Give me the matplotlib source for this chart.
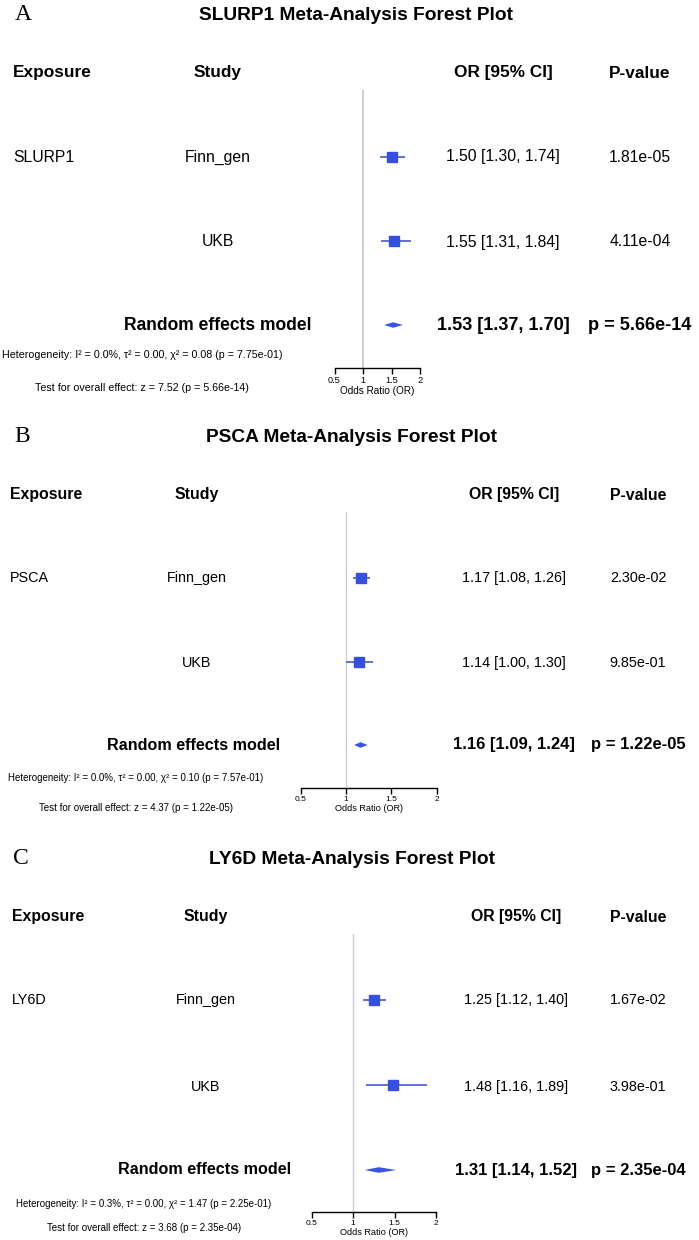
import matplotlib
matplotlib.use("Agg")
import matplotlib.pyplot as plt

plt.rcParams['font.family'] = ['Liberation Sans', 'DejaVu Sans']

# ---------------- data ----------------
panel_letters = ["A", "B", "C"]
exposures = ["SLURP1", "PSCA", "LY6D"]
studies = ["Finn_gen", "UKB"]

slurp1_or = [1.50, 1.55]
slurp1_lo = [1.30, 1.31]
slurp1_hi = [1.74, 1.84]
slurp1_p = ["1.81e-05", "4.11e-04"]

psca_or = [1.17, 1.14]
psca_lo = [1.08, 1.00]
psca_hi = [1.26, 1.30]
psca_p = ["2.30e-02", "9.85e-01"]

ly6d_or = [1.25, 1.48]
ly6d_lo = [1.12, 1.16]
ly6d_hi = [1.40, 1.89]
ly6d_p = ["1.67e-02", "3.98e-01"]

re_or = [1.53, 1.16, 1.31]
re_lo = [1.37, 1.09, 1.14]
re_hi = [1.70, 1.24, 1.52]
re_p = ["5.66e-14", "1.22e-05", "2.35e-04"]

het_i2 = ["0.0%", "0.0%", "0.3%"]
het_tau2 = ["0.00", "0.00", "0.00"]
het_chi2 = ["0.08", "0.10", "1.47"]
het_p = ["7.75e-01", "7.57e-01", "2.25e-01"]
overall_z = ["7.52", "4.37", "3.68"]

tick_values = [0.5, 1, 1.5, 2]
tick_labels = ["0.5", "1", "1.5", "2"]

study_or = [slurp1_or, psca_or, ly6d_or]
study_lo = [slurp1_lo, psca_lo, ly6d_lo]
study_hi = [slurp1_hi, psca_hi, ly6d_hi]
study_p = [slurp1_p, psca_p, ly6d_p]

# ---------------- layout (pixels) ----------------
W, H = 699, 1240
fig = plt.figure(figsize=(W / 100, H / 100), dpi=100)
fig.patch.set_facecolor("white")

def fx(px):
    return px / W

def fy(py):
    return 1 - py / H

layouts = [
    dict(scale=1.09, title_y=16, header_y=73, rows=[157, 242, 325], line_top=90,
         axis_y=368, het_y=355, test_y=388, one_px=363, unit_px=57,
         exp_x=13, study_x=218, or_x=503, p_x=640, re_right=312, het_x=142,
         title_x=356, letter_x=15),
    dict(scale=1.0, title_y=438, header_y=495, rows=[578, 663, 745], line_top=512,
         axis_y=788, het_y=778, test_y=808, one_px=346, unit_px=90.5,
         exp_x=10, study_x=197, or_x=514, p_x=638, re_right=280, het_x=136,
         title_x=352, letter_x=14),
    dict(scale=1.0, title_y=860, header_y=917, rows=[1000, 1087, 1170], line_top=934,
         axis_y=1212, het_y=1204, test_y=1228, one_px=353, unit_px=83,
         exp_x=12, study_x=206, or_x=516, p_x=638, re_right=291, het_x=144,
         title_x=352, letter_x=13),
]

sq_color = "#3550DC"
ci_color = "#5566D0"
dia_color = "#3A55E6"

for i, L in enumerate(layouts):
    s = L["scale"]
    rows = L["rows"]
    # letter & title
    fig.text(fx(L["letter_x"]), fy(L["title_y"] - 1), panel_letters[i],
             family="Liberation Serif", fontsize=17, ha="left", va="center")
    fig.text(fx(L["title_x"]), fy(L["title_y"]), f"{exposures[i]} Meta-Analysis Forest Plot",
             fontsize=13.8, fontweight="bold", ha="center", va="center")
    # headers
    hy = fy(L["header_y"])
    fs_h = 11.4 * s
    fig.text(fx(L["exp_x"]), hy, "Exposure", fontsize=fs_h, fontweight="bold", ha="left", va="center")
    fig.text(fx(L["study_x"]), hy, "Study", fontsize=fs_h, fontweight="bold", ha="center", va="center")
    fig.text(fx(L["or_x"]), hy, "OR [95% CI]", fontsize=fs_h, fontweight="bold", ha="center", va="center")
    fig.text(fx(L["p_x"]), hy, "P-value", fontsize=fs_h, fontweight="bold", ha="center", va="center")

    # study rows text
    fs_r = 10.4 * s
    fig.text(fx(L["exp_x"]), fy(rows[0]), exposures[i], fontsize=fs_r, ha="left", va="center")
    for j, st in enumerate(studies):
        ry = fy(rows[j])
        fig.text(fx(L["study_x"]), ry, st, fontsize=fs_r, ha="center", va="center")
        fig.text(fx(L["or_x"]), ry,
                 f"{study_or[i][j]:.2f} [{study_lo[i][j]:.2f}, {study_hi[i][j]:.2f}]",
                 fontsize=fs_r, ha="center", va="center")
        fig.text(fx(L["p_x"]), ry, study_p[i][j], fontsize=fs_r, ha="center", va="center")

    # random effects row
    fs_re = 11.6 * s
    ry = fy(rows[2])
    fig.text(fx(L["re_right"]), ry, "Random effects model", fontsize=fs_re,
             fontweight="bold", ha="right", va="center")
    fig.text(fx(L["or_x"]), ry, f"{re_or[i]:.2f} [{re_lo[i]:.2f}, {re_hi[i]:.2f}]",
             fontsize=12.0 * s, fontweight="bold", ha="center", va="center")
    fig.text(fx(L["p_x"]), ry, f"p = {re_p[i]}",
             fontsize=12.0 * s, fontweight="bold", ha="center", va="center")

    # heterogeneity
    fs_het = 7.0 * s
    fig.text(fx(L["het_x"]), fy(L["het_y"]),
             f"Heterogeneity: I\u00b2 = {het_i2[i]}, \u03c4\u00b2 = {het_tau2[i]}, "
             f"\u03c7\u00b2 = {het_chi2[i]} (p = {het_p[i]})",
             fontsize=fs_het, ha="center", va="center")
    fig.text(fx(L["het_x"]), fy(L["test_y"]),
             f"Test for overall effect: z = {overall_z[i]} (p = {re_p[i]})",
             fontsize=fs_het, ha="center", va="center")

    # forest axes
    left_px = L["one_px"] + L["unit_px"] * (tick_values[0] - 1)
    right_px = L["one_px"] + L["unit_px"] * (tick_values[-1] - 1)
    sp = (rows[2] - rows[0]) / 2
    top_d = -(rows[0] - L["line_top"]) / sp
    bot_d = 2 + (L["axis_y"] - rows[2]) / sp
    ax = fig.add_axes([fx(left_px), fy(L["axis_y"]), (right_px - left_px) / W,
                       (L["axis_y"] - L["line_top"]) / H])
    ax.set_xlim(tick_values[0], tick_values[-1])
    ax.set_ylim(bot_d, top_d)
    ax.patch.set_alpha(0)
    for side in ["top", "right", "left"]:
        ax.spines[side].set_visible(False)
    ax.spines["bottom"].set_linewidth(1.0)
    ax.set_yticks([])
    ax.set_xticks(tick_values)
    ax.set_xticklabels(tick_labels)
    ax.tick_params(axis="x", length=4, width=1.0, labelsize=6.0 * s, pad=2)
    ax.set_xlabel("Odds Ratio (OR)", fontsize=6.6 * s, labelpad=0.5)
    ax.axvline(1, color="#cfcfcf", lw=1.4 if i == 0 else 1.0, zorder=1)

    for j in range(len(studies)):
        ax.hlines(j, study_lo[i][j], study_hi[i][j], color=ci_color, lw=1.3, zorder=2)
        ax.plot(study_or[i][j], j, marker="s", ms=6.5, color=sq_color, mec=sq_color, zorder=3)
    h = 2.8 / sp
    ax.fill([re_lo[i], re_or[i], re_hi[i], re_or[i]], [2, 2 - h, 2, 2 + h],
            color=dia_color, lw=0, zorder=3)

fig.savefig("out.png", dpi=100, facecolor="white")
